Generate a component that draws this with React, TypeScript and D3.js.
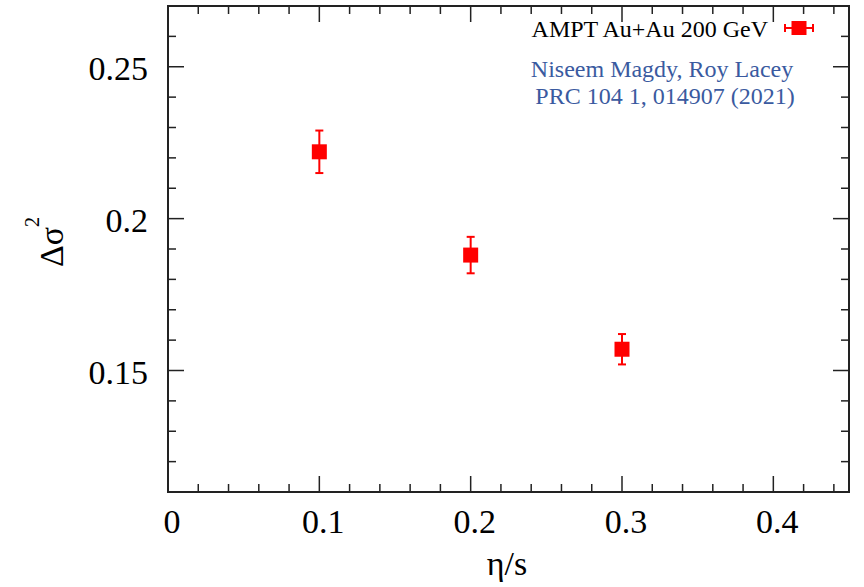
import React from "react";
import * as d3 from "d3";

const etaOverS = [0.1, 0.2, 0.3];
const deltaSigma2 = [0.222, 0.188, 0.157];
const errors = [0.007, 0.006, 0.005];
const xMajorTicks = [0, 0.1, 0.2, 0.3, 0.4];
const yMajorTicks = [0.15, 0.2, 0.25];
const legendLabel = "AMPT Au+Au 200 GeV";
const creditLines = ["Niseem Magdy, Roy Lacey", "PRC 104 1, 014907 (2021)"];

const W = 864;
const H = 587;
const L = 168, R = 849, T = 6, B = 492;
const FONT = "'Liberation Serif', 'DejaVu Serif', 'Times New Roman', serif";
const RED = "#ff0000";
const AX = "#222";

export default function App() {
  const x = d3.scaleLinear().domain([0, 0.45]).range([L, R]);
  const y = d3.scaleLinear().domain([0.11, 0.27]).range([B, T]);

  const xMinor = d3.range(0, 0.4501, 0.02).map((v) => +v.toFixed(3));
  const yMinor = d3.range(0.11, 0.2701, 0.01).map((v) => +v.toFixed(3));
  const isMajor = (v: number, arr: number[]) => arr.some((m) => Math.abs(m - v) < 1e-6);

  const major = 16;
  const minor = 8;
  const ms = 15;
  const cap = 4;

  return (
    <svg width={W} height={H} style={{ position: "absolute", left: 0, top: 0, background: "#fff" }}>
      <rect x={0} y={0} width={W} height={H} fill="#fff" />
      {xMinor.map((v, i) => {
        const len = isMajor(v, xMajorTicks) ? major : minor;
        return (
          <g key={"xt" + i} stroke={AX} strokeWidth={1.5}>
            <line x1={x(v)} x2={x(v)} y1={B} y2={B - len} />
            <line x1={x(v)} x2={x(v)} y1={T} y2={T + len} />
          </g>
        );
      })}
      {yMinor.map((v, i) => {
        const len = isMajor(v, yMajorTicks) ? major : minor;
        return (
          <g key={"yt" + i} stroke={AX} strokeWidth={1.5}>
            <line x1={L} x2={L + len} y1={y(v)} y2={y(v)} />
            <line x1={R} x2={R - len} y1={y(v)} y2={y(v)} />
          </g>
        );
      })}
      <rect x={L} y={T} width={R - L} height={B - T} fill="none" stroke={AX} strokeWidth={2} />

      {xMajorTicks.map((v) => (
        <text key={"xl" + v} x={x(v) + 4} y={533} fontFamily={FONT} fontSize={34} textAnchor="middle" fill="#000">
          {v === 0 ? "0" : String(v)}
        </text>
      ))}
      {yMajorTicks.map((v) => (
        <text key={"yl" + v} x={148} y={y(v) + 13} fontFamily={FONT} fontSize={34} textAnchor="end" fill="#000">
          {String(v)}
        </text>
      ))}

      <text x={507} y={575} fontFamily={FONT} fontSize={34} textAnchor="middle" fill="#000">η/s</text>
      <text transform={`translate(63,${242}) rotate(-90)`} fontFamily={FONT} fontSize={34} textAnchor="middle" fill="#000">
        Δσ<tspan fontSize={20} dy={-24}>2</tspan>
      </text>

      {etaOverS.map((xv, i) => {
        const cx = x(xv);
        const cy = y(deltaSigma2[i]);
        const yt = y(deltaSigma2[i] + errors[i]);
        const yb = y(deltaSigma2[i] - errors[i]);
        return (
          <g key={"pt" + i}>
            <line x1={cx} x2={cx} y1={yt} y2={yb} stroke={RED} strokeWidth={2} />
            <line x1={cx - cap} x2={cx + cap} y1={yt} y2={yt} stroke={RED} strokeWidth={2} />
            <line x1={cx - cap} x2={cx + cap} y1={yb} y2={yb} stroke={RED} strokeWidth={2} />
            <rect x={cx - ms / 2} y={cy - ms / 2} width={ms} height={ms} fill={RED} />
          </g>
        );
      })}

      <text x={768} y={37} fontFamily={FONT} fontSize={24} textAnchor="end" fill="#000">{legendLabel}</text>
      <g>
        <line x1={785} x2={813} y1={28} y2={28} stroke={RED} strokeWidth={2} />
        <line x1={785} x2={785} y1={24} y2={32} stroke={RED} strokeWidth={2} />
        <line x1={813} x2={813} y1={24} y2={32} stroke={RED} strokeWidth={2} />
        <rect x={799 - 7.5} y={28 - 7} width={15} height={14} fill={RED} />
      </g>
      {creditLines.map((t, i) => (
        <text key={"cr" + i} x={662 + i * 3} y={77 + i * 27} fontFamily={FONT} fontSize={24} textAnchor="middle" fill="#3a5aa0">
          {t}
        </text>
      ))}
    </svg>
  );
}
